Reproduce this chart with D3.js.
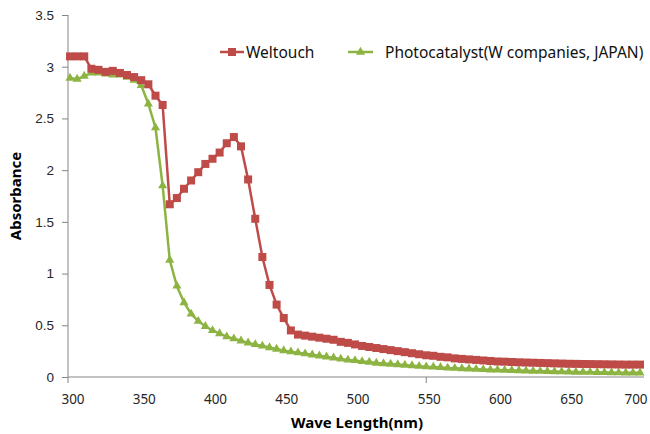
<!DOCTYPE html>
<html>
<head>
<meta charset="utf-8">
<script src="https://cdn.jsdelivr.net/npm/d3@7"></script>
<style>
  body { margin: 0; background: #fff; }
  svg { font-family: "Noto Sans", "DejaVu Sans", sans-serif; }
</style>
</head>
<body>
<svg id="chart"></svg>
<script>
// wavelengths (nm), one reading every 5 nm
const wavelengths = [300,305,310,315,320,325,330,335,340,345,350,355,360,365,370,375,380,385,390,395,
  400,405,410,415,420,425,430,435,440,445,450,455,460,465,470,475,480,485,490,495,
  500,505,510,515,520,525,530,535,540,545,550,555,560,565,570,575,580,585,590,595,
  600,605,610,615,620,625,630,635,640,645,650,655,660,665,670,675,680,685,690,695,700];

const weltouch = [3.10,3.10,3.10,2.98,2.97,2.95,2.96,2.94,2.92,2.90,2.87,2.83,2.72,2.63,1.67,1.73,1.82,1.90,1.98,2.06,
  2.11,2.17,2.26,2.32,2.23,1.91,1.53,1.16,0.89,0.70,0.57,0.45,0.41,0.40,0.39,0.38,0.37,0.36,0.34,0.33,
  0.315,0.30,0.29,0.28,0.27,0.26,0.25,0.24,0.23,0.22,0.21,0.205,0.195,0.19,0.18,0.175,0.17,0.165,0.16,0.155,
  0.15,0.148,0.145,0.142,0.14,0.138,0.136,0.134,0.132,0.13,0.128,0.127,0.126,0.125,0.124,0.123,0.122,0.121,0.12,0.12,0.12];

const photocatalyst = [2.89,2.88,2.91,2.94,2.94,2.93,2.92,2.92,2.90,2.87,2.82,2.64,2.41,1.85,1.13,0.88,0.72,0.61,0.54,0.49,
  0.45,0.42,0.39,0.37,0.35,0.33,0.315,0.30,0.285,0.27,0.255,0.245,0.235,0.225,0.215,0.205,0.195,0.185,0.175,0.165,
  0.16,0.15,0.145,0.135,0.13,0.125,0.12,0.115,0.11,0.105,0.10,0.097,0.093,0.088,0.085,0.082,0.079,0.076,0.073,0.07,
  0.068,0.066,0.064,0.062,0.06,0.058,0.056,0.055,0.053,0.051,0.05,0.048,0.047,0.046,0.045,0.044,0.043,0.042,0.041,0.04,0.04];

const xTickLabels = [300,350,400,450,500,550,600,650,700];
const xTickMarks = [300,550];
const yTicks = [0,0.5,1,1.5,2,2.5,3,3.5];

const seriesNames = ['Weltouch', 'Photocatalyst(W companies, JAPAN)'];

const width = 650, height = 434;
const red = '#BE4B48', green = '#8DB443';

const svg = d3.select('#chart')
    .attr('width', width)
    .attr('height', height);

const x = d3.scaleLinear().domain([300, 700]).range([70, 640]);
const y = d3.scaleLinear().domain([0, 3.5]).range([377, 15]);

// y axis
const yAxis = svg.append('g')
    .attr('transform', 'translate(68,0)')
    .call(d3.axisLeft(y).tickValues(yTicks).tickSize(6).tickPadding(8)
        .tickFormat(d => d));
yAxis.select('.domain').attr('stroke', '#868686').attr('d', 'M0,15V377');
yAxis.selectAll('.tick line').attr('stroke', '#868686');
yAxis.selectAll('.tick text').attr('font-size', 13.5).attr('fill', '#262626');

// x axis: line, two tick marks, labels every 50 nm
const xAxis = svg.append('g').attr('transform', 'translate(0,377)');
xAxis.append('line')
    .attr('x1', 68).attr('x2', 644)
    .attr('stroke', '#868686');
xAxis.selectAll('.xtick')
    .data(xTickMarks)
    .join('line').attr('class', 'xtick')
    .attr('x1', d => d === 300 ? 68 : x(d))
    .attr('x2', d => d === 300 ? 68 : x(d))
    .attr('y1', 0).attr('y2', 6)
    .attr('stroke', '#868686');
xAxis.selectAll('.xlabel')
    .data(xTickLabels)
    .join('text').attr('class', 'xlabel')
    .attr('x', d => Math.min(x(d) + 3, 636))
    .attr('y', 27)
    .attr('text-anchor', 'middle')
    .attr('font-size', 13.5)
    .attr('fill', '#262626')
    .text(d => d);

// axis titles
svg.append('text')
    .attr('x', 357).attr('y', 428)
    .attr('text-anchor', 'middle')
    .attr('font-size', 15).attr('font-weight', 'bold')
    .text('Wave Length(nm)');
svg.append('text')
    .attr('transform', 'translate(21,196) rotate(-90)')
    .attr('text-anchor', 'middle')
    .attr('font-size', 15).attr('font-weight', 'bold')
    .text('Absorbance');

const line = d3.line()
    .x((d, i) => x(wavelengths[i]))
    .y(d => y(d));

// photocatalyst first so weltouch sits on top
const gGreen = svg.append('g');
gGreen.append('path')
    .datum(photocatalyst)
    .attr('d', line)
    .attr('fill', 'none')
    .attr('stroke', green)
    .attr('stroke-width', 2.5);
const tri = d3.symbol().type(d3.symbolTriangle).size(36);
gGreen.selectAll('.tri')
    .data(photocatalyst)
    .join('path').attr('class', 'tri')
    .attr('d', tri)
    .attr('transform', (d, i) => `translate(${x(wavelengths[i])},${y(d)})`)
    .attr('fill', green);

const gRed = svg.append('g');
gRed.append('path')
    .datum(weltouch)
    .attr('d', line)
    .attr('fill', 'none')
    .attr('stroke', red)
    .attr('stroke-width', 2.5);
gRed.selectAll('.sq')
    .data(weltouch)
    .join('rect').attr('class', 'sq')
    .attr('x', (d, i) => x(wavelengths[i]) - 4)
    .attr('y', d => y(d) - 4)
    .attr('width', 8).attr('height', 8)
    .attr('fill', red);

// legend
const legend = svg.append('g');
legend.append('line')
    .attr('x1', 220).attr('x2', 244).attr('y1', 52).attr('y2', 52)
    .attr('stroke', red).attr('stroke-width', 2.5);
legend.append('rect')
    .attr('x', 228).attr('y', 48).attr('width', 8).attr('height', 8)
    .attr('fill', red);
legend.append('text')
    .attr('x', 246).attr('y', 57.5)
    .attr('font-size', 15.5).attr('fill', '#111')
    .text(seriesNames[0]);

legend.append('line')
    .attr('x1', 348).attr('x2', 373).attr('y1', 52).attr('y2', 52)
    .attr('stroke', green).attr('stroke-width', 2.5);
legend.append('path')
    .attr('d', tri)
    .attr('transform', 'translate(360.5,52)')
    .attr('fill', green);
legend.append('text')
    .attr('x', 385).attr('y', 57.5)
    .attr('font-size', 15.5).attr('fill', '#111')
    .text(seriesNames[1]);
</script>
</body>
</html>
